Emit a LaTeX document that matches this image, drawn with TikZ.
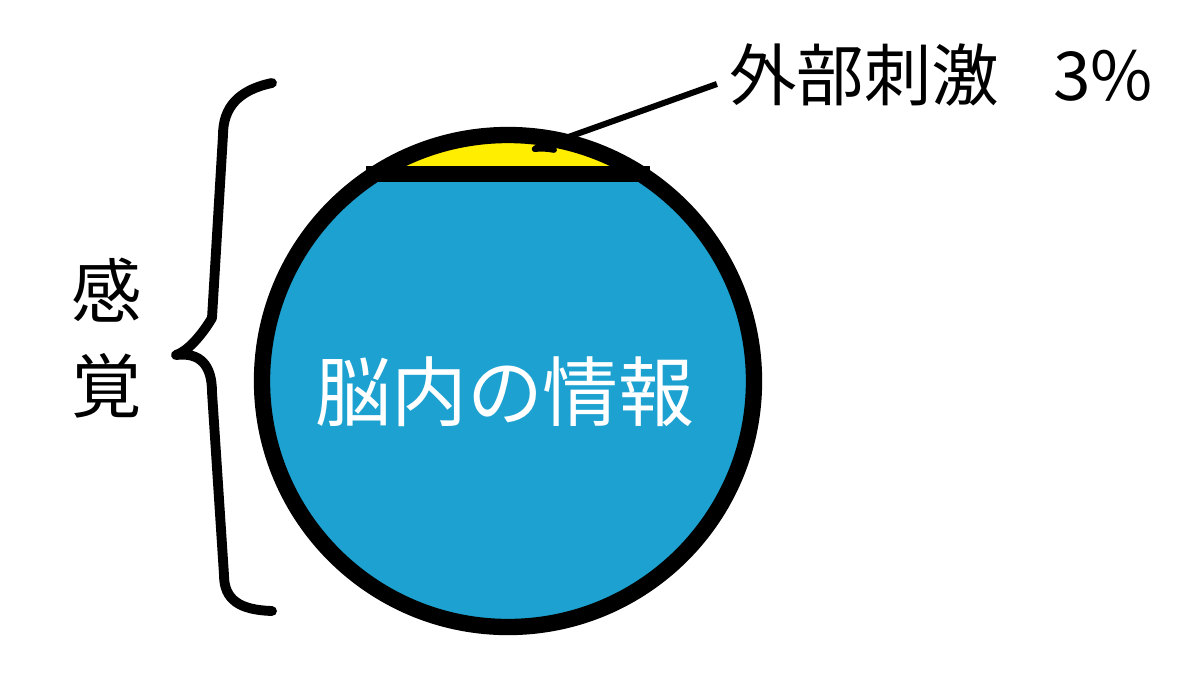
\documentclass[tikz,border=0pt]{standalone}
\usepackage{fontspec}
\setmainfont{Noto Sans CJK JP}
\usepackage{xcolor}
\usepackage{tikz}
\usetikzlibrary{arrows}
\definecolor{brainblue}{RGB}{28,161,208}
\definecolor{capyellow}{RGB}{255,238,0}
\tikzset{
    tnode/.style = {align=center, inner sep=0pt, text centered},
    stim_node/.style = {tnode, black, font=\fontsize{48}{60}\selectfont},
    side_node/.style = {tnode, black, font=\fontsize{50}{68}\selectfont},
    inner_node/.style = {tnode, white, font=\fontsize{54}{64}\selectfont},
    rim/.style = {draw=black, line width=11.6pt},
    pointer/.style = {->, >=stealth', line width=4.3pt},
    bracket/.style = {draw=black, line width=7pt, line cap=round, line join=round}
}

\begin{document}
\begin{tikzpicture}[x=0.025cm, y=-0.025cm]
    \useasboundingbox (0,0) rectangle (1200,686);
    \coordinate (c) at (508,381);

    % brain with the outside part on top
    \fill[brainblue] (c) circle (246);
    \begin{scope}
        \clip (0,0) rectangle (1200,174);
        \fill[capyellow] (c) circle (246);
    \end{scope}
    \draw[rim] (366,174) -- (650,174);
    \draw[rim] (c) circle (246);

    \node [inner_node] (brain) at (505,392) {脳内の情報};

    \node [stim_node] (stim) at (941,75) {外部刺激\hspace{0.8em}3\%};
    \coordinate (cap) at (532,150);
    \draw [pointer] ([shift={(-12,9)}]stim.west) -- (cap);

    % sense brace
    \node [side_node] (sense) at (107,338) {感\\覚};
    \draw [bracket] (272,83) .. controls (238,90) and (223,108) .. (223,135)
        -- (212,318) .. controls (200,338) and (186,352) .. (176,355)
        .. controls (200,352) and (212,365) .. (212,392)
        -- (224,575) .. controls (224,600) and (240,610) .. (272,611);
\end{tikzpicture}
\end{document}
